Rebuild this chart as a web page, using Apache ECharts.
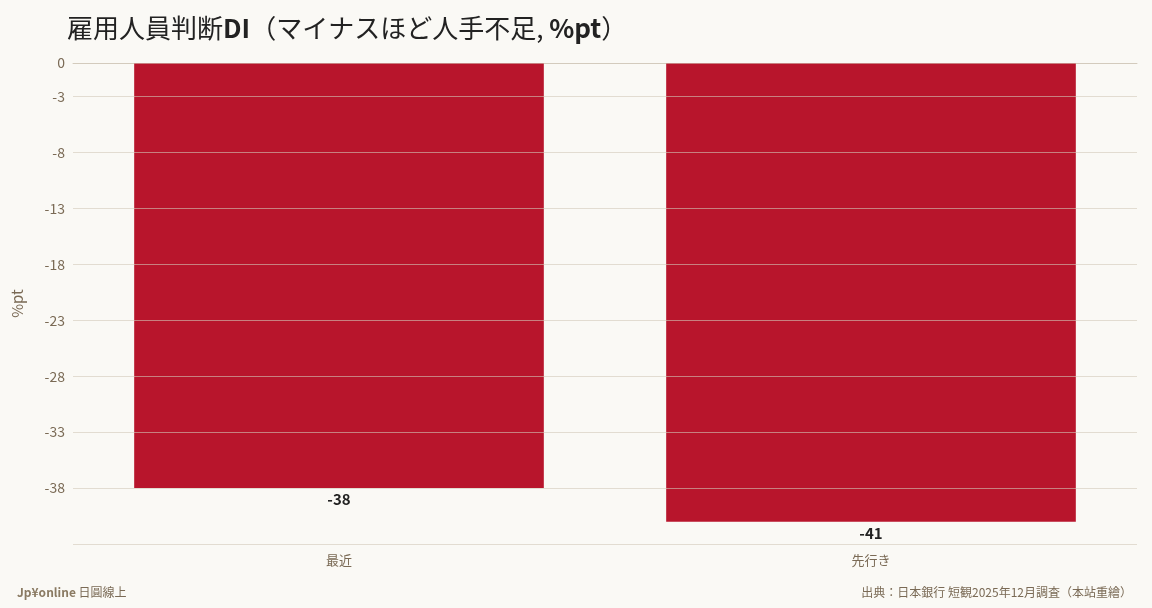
<!DOCTYPE html>
<html><head><meta charset="utf-8">
<script src="https://cdn.jsdelivr.net/npm/echarts@6/dist/echarts.min.js"></script>
<style>html,body{margin:0;background:#faf9f5}#c{width:1152px;height:608px}</style>
</head><body><div id="c"></div>
<script>
const categories = ['最近', '先行き'];
const values = [-38, -41];
const chart = echarts.init(document.getElementById('c'));
const font = '"Noto Sans CJK JP","Noto Sans",sans-serif';
chart.setOption({
  backgroundColor: '#faf9f5',
  textStyle: {fontFamily: font},
  title: [
    {text: '雇用人員判断{b|DI}（マイナスほど人手不足, {b|%pt}）', left: 62, top: 10,
     textStyle: {fontSize: 26, fontWeight: 'normal', color: '#222', fontFamily: font,
       rich: {b: {fontSize: 26, fontWeight: 'bold', color: '#222', fontFamily: font}}}},
    {text: '{b|Jp¥online} 日圓線上', left: 12, bottom: 5,
     textStyle: {fontSize: 12, fontWeight: 'normal', color: '#7a6a55', fontFamily: font,
       rich: {b: {fontSize: 12, fontWeight: 'bold', color: '#8a7a62', fontFamily: font}}}},
    {text: '出典：日本銀行 短観2025年12月調査（本站重繪）', right: 15, bottom: 5,
     textStyle: {fontSize: 12, fontWeight: 'normal', color: '#7a6a55', fontFamily: font}}
  ],
  grid: {left: 73, right: 15, top: 63, bottom: 64},
  xAxis: {type: 'category', data: categories,
    axisLine: {lineStyle: {color: '#d5cfc2'}}, axisTick: {show: true, alignWithLabel: true, lineStyle: {color: '#aaa'}},
    axisLabel: {color: '#7a6a55', fontSize: 13, margin: 10}},
  yAxis: {type: 'value', min: -43, max: 0, interval: 5, z: 5,
    name: '%pt', nameLocation: 'middle', nameGap: 48, nameTextStyle: {color: '#7a6a55', fontSize: 15},
    axisLabel: {color: '#7a6a55', fontSize: 14, showMinLabel: false},
    axisLine: {show: false}, axisTick: {show: false},
    splitLine: {lineStyle: {color: 'rgba(210,200,185,0.6)'}}},
  series: [{type: 'bar', data: values, barWidth: '77%', z: 2,
    itemStyle: {color: '#b8152c'},
    label: {show: true, position: 'bottom', color: '#222', fontWeight: 'bold', fontSize: 15, distance: 4}}]
});
</script></body></html>
